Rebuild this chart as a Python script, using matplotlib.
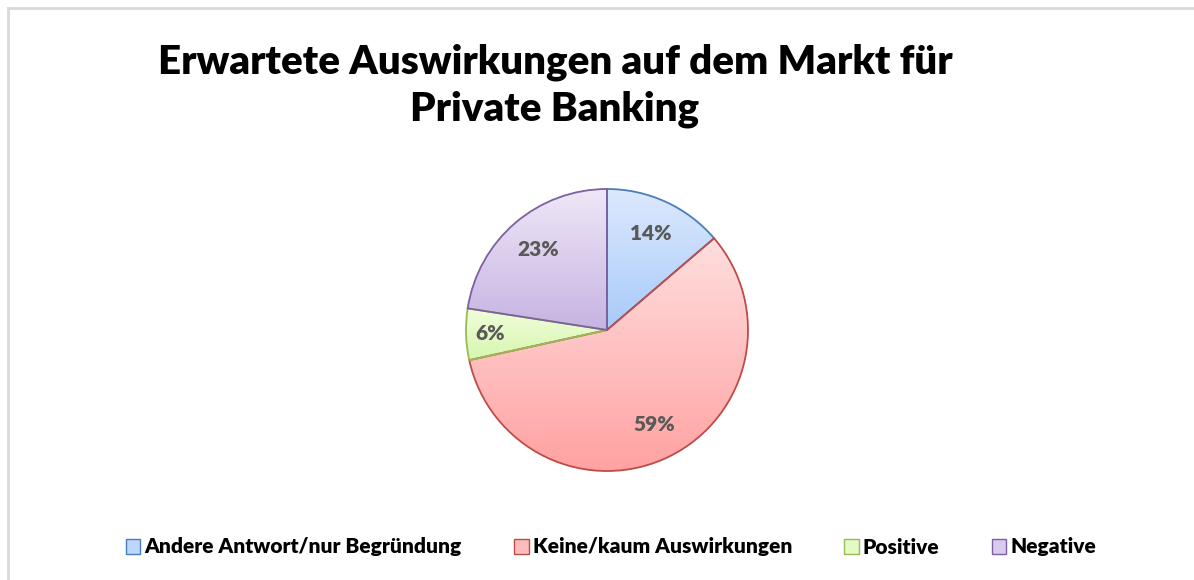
import numpy as np
import matplotlib.pyplot as plt
from matplotlib.colors import LinearSegmentedColormap
from matplotlib.patches import Patch

# data
categories = ["Andere Antwort/nur Begründung", "Keine/kaum Auswirkungen", "Positive", "Negative"]
values = [14, 59, 6, 23]
labels = ["14%", "59%", "6%", "23%"]

# top -> bottom gradient colours and edge colour of each slice
top_colors = ["#dce9fd", "#ffdede", "#f1fddc", "#efe7f7"]
bottom_colors = ["#a8caf9", "#ffa2a2", "#d6f7ae", "#c6b3e2"]
edge_colors = ["#4a7ebb", "#be4b48", "#98b954", "#7d60a0"]
mid_colors = ["#bdd6fb", "#ffbcbc", "#e3fac4", "#d8cbec"]

font = ["Lato", "DejaVu Sans"]

fig = plt.figure(figsize=(11.94, 5.8), dpi=100)

# pie axes: center ~ (607, 330) px, radius ~141 px
r_px = 141
cx, cy = 607, 330
half = r_px * 1.25
ax = fig.add_axes([(cx - half) / 1194, (580 - cy - half) / 580, 2 * half / 1194, 2 * half / 580])

wedges, _ = ax.pie(values, startangle=90, counterclock=False, radius=1,
                   wedgeprops=dict(linewidth=1.3, facecolor="none"))
ax.set_aspect("equal")
ax.axis("off")

grad = np.linspace(0, 1, 256).reshape(-1, 1)
label_r = [0.75, 0.75, 0.83, 0.75]
for i, w in enumerate(wedges):
    w.set_edgecolor(edge_colors[i])
    w.set_zorder(3)
    cmap = LinearSegmentedColormap.from_list("g%d" % i, [top_colors[i], bottom_colors[i]])
    verts = w.get_path().vertices
    x0, x1 = verts[:, 0].min(), verts[:, 0].max()
    y0, y1 = verts[:, 1].min(), verts[:, 1].max()
    im = ax.imshow(grad, cmap=cmap, extent=[x0, x1, y0, y1], origin="upper",
                   aspect="auto", zorder=2)
    im.set_clip_path(w)
    ang = np.deg2rad((w.theta1 + w.theta2) / 2)
    ax.text(label_r[i] * np.cos(ang), label_r[i] * np.sin(ang), labels[i],
            ha="center", va="center", fontsize=15, fontweight="heavy",
            color="#595959", family=font, zorder=4)
ax.set_xlim(-1.25, 1.25)
ax.set_ylim(-1.25, 1.25)

# title
fig.text(555 / 1194, 1 - 86 / 580, "Erwartete Auswirkungen auf dem Markt für\nPrivate Banking",
         ha="center", va="center", fontsize=29, fontweight="heavy", family=font,
         linespacing=1.32)

# legend
handles = [Patch(facecolor=mid_colors[i], edgecolor=edge_colors[i], linewidth=1)
           for i in range(len(categories))]
fig.legend(handles, categories, loc="center", bbox_to_anchor=(611 / 1194, 1 - 547 / 580),
           ncol=4, frameon=False, handlelength=0.7, handleheight=0.7,
           handletextpad=0.2, columnspacing=2.5,
           prop=dict(family=font, weight="heavy", size=15))

# chart area border (top and left edges visible)
fig.add_artist(plt.Line2D([8 / 1194, 1], [1 - 7.5 / 580, 1 - 7.5 / 580], color="#d9d9d9", lw=2))
fig.add_artist(plt.Line2D([8 / 1194, 8 / 1194], [0, 1 - 7.5 / 580], color="#d9d9d9", lw=2))

fig.savefig("out.png", dpi=100)
